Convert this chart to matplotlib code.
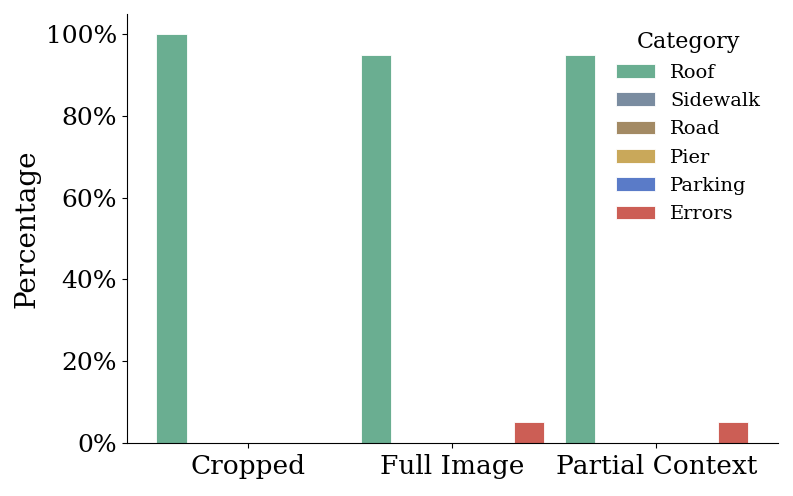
import matplotlib
matplotlib.use("Agg")
import matplotlib.pyplot as plt
import numpy as np
from matplotlib.ticker import PercentFormatter

conditions = ["Cropped", "Full Image", "Partial Context"]
categories = ["Roof", "Sidewalk", "Road", "Pier", "Parking", "Errors"]
roof = [100, 95, 95]
sidewalk = [0, 0, 0]
road = [0, 0, 0]
pier = [0, 0, 0]
parking = [0, 0, 0]
errors = [0, 5, 5]
colors = ["#6aae91", "#7a8ca0", "#a38a64", "#c9a85a", "#5a7bc8", "#cc5e55"]

series = [roof, sidewalk, road, pier, parking, errors]

plt.rcParams["font.family"] = "DejaVu Serif"

fig = plt.figure(figsize=(7.93, 4.96), dpi=100)
ax = fig.add_axes([0.160, 0.107, 0.821, 0.865])

x = np.arange(len(conditions))
width = 0.15
for j, (name, vals) in enumerate(zip(categories, series)):
    offset = (j - (len(categories) - 1) / 2) * width
    ax.bar(x + offset, vals, width, label=name, color=colors[j],
           edgecolor="white", linewidth=0.6)

ax.set_xticks(x)
ax.set_xticklabels(conditions, fontsize=19)
ax.tick_params(axis="x", pad=4.5)
ax.yaxis.set_major_formatter(PercentFormatter(100, decimals=0))
ax.tick_params(axis="y", labelsize=18)
ax.set_ylabel("Percentage", fontsize=20)
ax.spines["top"].set_visible(False)
ax.spines["right"].set_visible(False)

ax.legend(title="Category", fontsize=14, title_fontsize=16, frameon=False,
          loc="upper right", labelspacing=0.53)

fig.savefig("out.png", dpi=100)
